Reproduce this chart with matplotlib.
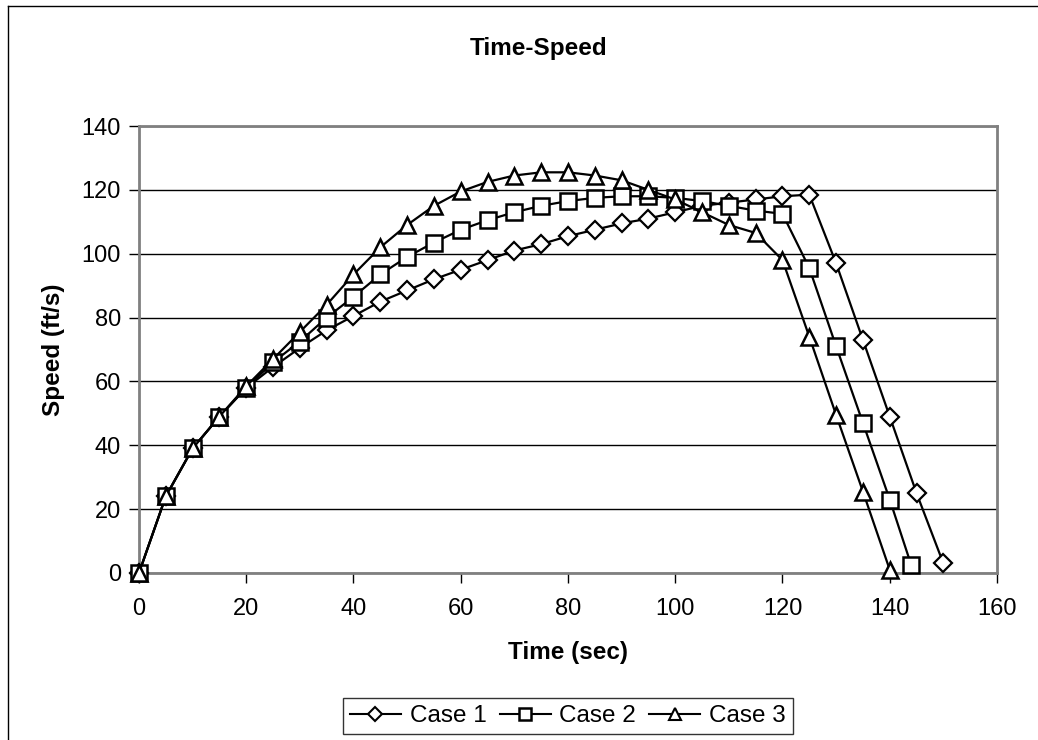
import matplotlib.pyplot as plt
from matplotlib.lines import Line2D

plt.rcParams['font.family'] = ['Liberation Sans', 'DejaVu Sans']

# time axis (sec)
t1 = [0, 5, 10, 15, 20, 25, 30, 35, 40, 45, 50, 55, 60, 65, 70, 75, 80, 85, 90, 95,
      100, 105, 110, 115, 120, 125, 130, 135, 140, 145, 150]
t2 = [0, 5, 10, 15, 20, 25, 30, 35, 40, 45, 50, 55, 60, 65, 70, 75, 80, 85, 90, 95,
      100, 105, 110, 115, 120, 125, 130, 135, 140, 144]
t3 = [0, 5, 10, 15, 20, 25, 30, 35, 40, 45, 50, 55, 60, 65, 70, 75, 80, 85, 90, 95,
      100, 105, 110, 115, 120, 125, 130, 135, 140]

# speed (ft/s)
case1 = [0, 24, 39, 49, 58, 64.5, 70.5, 76, 80.5, 85, 88.5, 92, 95, 98, 101, 103,
         105.5, 107.5, 109.5, 111, 113, 115, 116, 117, 118, 118.5, 97, 73, 49, 25, 3]
case2 = [0, 24, 39, 49, 58, 66, 72.5, 80, 86.5, 93.5, 99, 103.5, 107.5, 110.5, 113,
         115, 116.5, 117.5, 118, 118, 117.5, 116.5, 115, 113.5, 112.5, 95.5, 71, 47,
         23, 2.5]
case3 = [0, 24, 39, 49, 58.5, 67, 75.5, 84, 93.5, 102, 109, 115, 119.5, 122.5, 124.5,
         125.5, 125.5, 124.5, 123, 120, 117, 113, 109, 106.5, 98, 74, 49.5, 25.5, 1]

labels = ['Case 1', 'Case 2', 'Case 3']

fig = plt.figure(figsize=(10.38, 7.40), dpi=100)
ax = fig.add_axes([0.1339, 0.2257, 0.8266, 0.604])

ax.plot(t1, case1, color='black', lw=1.6, marker='D', ms=9, mfc='white',
        mec='black', mew=1.6, label=labels[0], clip_on=False, zorder=3)
ax.plot(t2, case2, color='black', lw=1.6, marker='s', ms=11, mfc='white',
        mec='black', mew=1.8, label=labels[1], clip_on=False, zorder=3)
ax.plot(t3, case3, color='black', lw=1.6, marker='^', ms=12, mfc='white',
        mec='black', mew=1.8, label=labels[2], clip_on=False, zorder=3)

ax.set_xlim(0, 160)
ax.set_ylim(0, 140)
ax.set_xticks(range(0, 161, 20))
ax.set_yticks(range(0, 141, 20))
ax.yaxis.grid(True, color='black', lw=1)
ax.set_axisbelow(True)
for s in ax.spines.values():
    s.set_color('#808080')
    s.set_linewidth(2)
ax.tick_params(labelsize=17, length=7, width=1, color='black')
ax.tick_params(axis='x', pad=11)
ax.tick_params(axis='y', pad=6)

ax.set_xlabel('Time (sec)', fontsize=17.5, fontweight='bold', labelpad=15)
ax.set_ylabel('Speed (ft/s)', fontsize=17.5, fontweight='bold', labelpad=12)
fig.text(0.519, 0.935, 'Time-Speed', ha='center', va='center', fontsize=17.5,
         fontweight='bold')

handles = [
    Line2D([], [], color='black', lw=1.5, marker='D', ms=7, mfc='white', mec='black', mew=1.5),
    Line2D([], [], color='black', lw=1.5, marker='s', ms=8, mfc='white', mec='black', mew=1.8),
    Line2D([], [], color='black', lw=1.5, marker='^', ms=8, mfc='white', mec='black', mew=1.5),
]
leg = fig.legend(handles, labels, loc='center', bbox_to_anchor=(0.547, 0.0324), ncol=3,
                 fontsize=17.5, frameon=True, fancybox=False, edgecolor='black',
                 handlelength=2.1, handletextpad=0.35, columnspacing=0.55,
                 borderpad=0.3, borderaxespad=0)
leg.get_frame().set_linewidth(1)

# outer chart frame (only left and top visible)
fig.add_artist(Line2D([8 / 1038, 8 / 1038], [0, 734 / 740], color='black', lw=1,
                      transform=fig.transFigure))
fig.add_artist(Line2D([8 / 1038, 1], [734 / 740, 734 / 740], color='black', lw=1,
                      transform=fig.transFigure))

fig.savefig('out.png', dpi=100)
